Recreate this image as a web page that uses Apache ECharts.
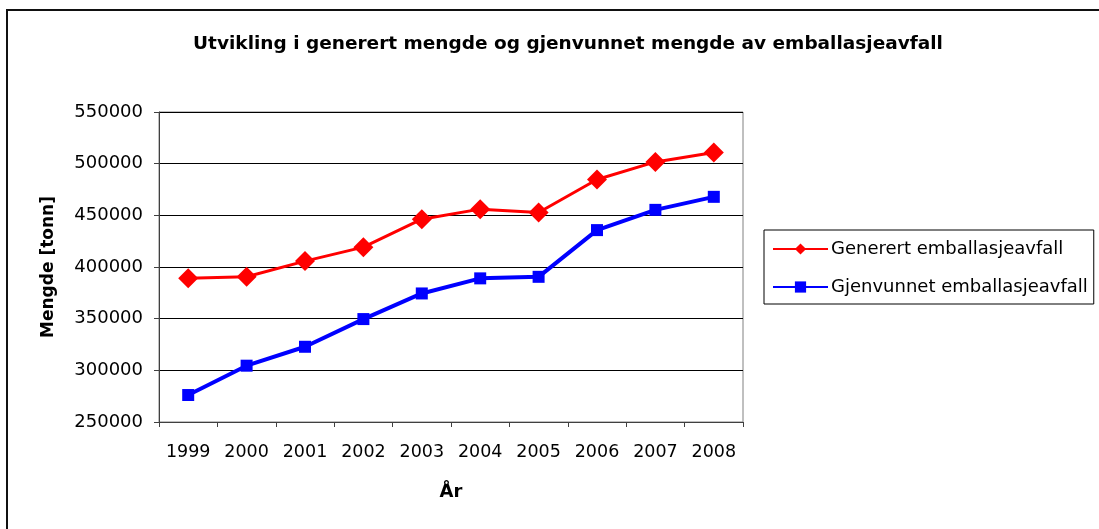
<!DOCTYPE html>
<html>
<head>
<meta charset="utf-8">
<title>Emballasjeavfall</title>
<script src="https://cdn.jsdelivr.net/npm/echarts@6/dist/echarts.min.js"></script>
<style>
  html, body { margin: 0; padding: 0; background: #fff; overflow: hidden; }
  #wrap { position: relative; width: 1099px; height: 529px; }
  #chart { width: 1099px; height: 529px; }
  /* ytre ramme: bare venstre og øvre kant er synlig */
  #frame {
    position: absolute; left: 6px; top: 9px; width: 1200px; height: 600px;
    border-left: 2px solid #111; border-top: 2px solid #111;
    pointer-events: none;
  }
</style>
</head>
<body>
<div id="wrap">
  <div id="chart"></div>
  <div id="frame"></div>
</div>
<script>
// år på x-aksen
const years = ["1999", "2000", "2001", "2002", "2003", "2004", "2005", "2006", "2007", "2008"];
// generert mengde (tonn)
const generert = [389000, 390500, 405700, 419200, 446300, 456000, 452800, 484700, 501700, 510800];
// gjenvunnet mengde (tonn)
const gjenvunnet = [276100, 304500, 322800, 349600, 374400, 389000, 390500, 435700, 455300, 467900];
const seriesNames = ["Generert emballasjeavfall", "Gjenvunnet emballasjeavfall"];

const font = "DejaVu Sans";

const chart = echarts.init(document.getElementById("chart"), null, { renderer: "canvas" });

const option = {
  backgroundColor: "#ffffff",
  animation: false,
  title: {
    text: "Utvikling i generert mengde og gjenvunnet mengde av emballasjeavfall",
    left: 563,
    top: 30,
    textAlign: "center",
    textStyle: {
      fontFamily: font,
      fontSize: 18.5,
      fontWeight: "bold",
      color: "#000",
    },
  },
  legend: {
    orient: "vertical",
    left: 764,
    top: 230,
    padding: [9, 6, 7, 8],
    borderColor: "#000",
    borderWidth: 1,
    itemWidth: 55,
    itemHeight: 14,
    itemGap: 18,
    data: seriesNames,
    textStyle: {
      fontFamily: font,
      fontSize: 18,
      color: "#000",
      lineHeight: 20,
      padding: [0, 0, 0, -2],
    },
  },
  grid: {
    left: 159,
    top: 112,
    right: 356,
    bottom: 107,
    show: true,
    borderColor: "#808080",
    borderWidth: 1,
    outerBoundsMode: "none",
  },
  xAxis: {
    type: "category",
    data: years,
    boundaryGap: true,
    name: "År",
    nameLocation: "middle",
    nameGap: 61,
    nameTextStyle: {
      fontFamily: font,
      fontSize: 18,
      fontWeight: "bold",
      color: "#000",
    },
    axisLine: { show: true, lineStyle: { color: "#404040", width: 1 } },
    axisTick: { show: true, length: 5, interval: 0, lineStyle: { color: "#404040" } },
    axisLabel: {
      interval: 0,
      margin: 21,
      fontFamily: font,
      fontSize: 17.5,
      color: "#000",
    },
  },
  yAxis: {
    type: "value",
    min: 250000,
    max: 550000,
    interval: 50000,
    name: "Mengde [tonn]",
    nameLocation: "middle",
    nameGap: 102,
    nameTextStyle: {
      fontFamily: font,
      fontSize: 17,
      fontWeight: "bold",
      color: "#000",
    },
    axisLine: { show: true, lineStyle: { color: "#404040", width: 1 } },
    axisTick: { show: true, length: 5, lineStyle: { color: "#404040" } },
    axisLabel: {
      margin: 16,
      fontFamily: font,
      fontSize: 18,
      color: "#000",
      formatter: (v) => String(v),
    },
    splitLine: { show: true, lineStyle: { color: "#000", width: 1 } },
  },
  series: [
    {
      name: seriesNames[0],
      type: "line",
      data: generert,
      symbol: "diamond",
      symbolSize: 20,
      lineStyle: { color: "#ff0000", width: 3 },
      itemStyle: { color: "#ff0000" },
      z: 3,
    },
    {
      name: seriesNames[1],
      type: "line",
      data: gjenvunnet,
      symbol: "rect",
      symbolSize: 12,
      lineStyle: { color: "#0000ff", width: 4 },
      itemStyle: { color: "#0000ff" },
      z: 2,
    },
  ],
};

chart.setOption(option);
</script>
</body>
</html>
